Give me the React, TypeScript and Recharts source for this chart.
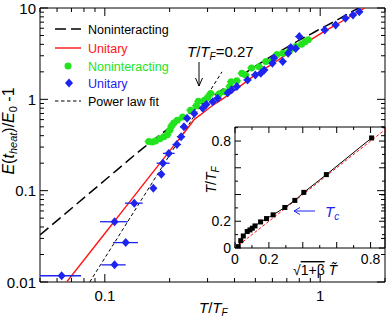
import React from 'react';
import { ComposedChart, Line, Scatter, XAxis, YAxis, ErrorBar, ReferenceArea } from 'recharts';

const FONT = '"Liberation Sans", Arial, Helvetica, sans-serif';
const RED = '#ff1414';
const GREEN = '#22e41e';
const BLUE = '#1c24ee';

// ---------- main plot data ----------
const nonintT = [0.05, 0.1, 0.15, 0.2, 0.25, 0.3, 0.35, 0.4, 0.5, 0.6, 0.7, 0.8, 0.9, 1.0, 1.2, 1.4, 1.55];
const nonintE = [0.0327, 0.13, 0.29, 0.49, 0.72, 0.98, 1.27, 1.6, 2.3, 3.0, 3.7, 4.45, 5.15, 5.9, 7.4, 9.1, 10.3];

const unitT = [0.0665, 0.1, 0.15, 0.2, 0.25, 0.26, 0.27, 0.28, 0.3, 0.35, 0.4, 0.5, 0.6, 0.7, 0.8, 0.9, 1.0, 1.2, 1.4, 1.61];
const unitE = [0.01, 0.034, 0.115, 0.272, 0.53, 0.6, 0.645, 0.685, 0.78, 1.0, 1.25, 1.85, 2.45, 3.1, 3.77, 4.47, 5.2, 6.68, 8.25, 10];

const fitT = [0.0851, 0.35];
const fitE = [0.01, 2.0];

const blueT = [0.063, 0.111, 0.111, 0.125, 0.137, 0.168, 0.183, 0.186, 0.198, 0.216, 0.226, 0.233, 0.241, 0.26, 0.285, 0.296, 0.317, 0.334, 0.372, 0.388, 0.41, 0.46, 0.5, 0.53, 0.55, 0.6, 0.61, 0.67, 0.71, 0.73, 0.77, 0.8, 1.05, 1.18, 1.31, 1.42, 1.52];
const blueE = [0.0117, 0.0457, 0.0154, 0.027, 0.073, 0.106, 0.151, 0.2, 0.256, 0.32, 0.39, 0.5, 0.62, 0.7, 0.8, 0.88, 0.94, 1.03, 1.17, 1.27, 1.38, 1.63, 1.85, 1.93, 2.09, 2.48, 2.83, 2.6, 3.2, 3.7, 3.6, 4.86, 5.76, 6.5, 7.7, 8.4, 9.1];
const blueErrLo = [0.013, 0.016, 0.0146, 0.016, 0.013, 0.006, 0.005, 0.012, 0.012, 0.01, 0.01, 0.01, 0.01, 0.011, 0.012, 0.012, 0.013, 0.014, 0.015, 0.016, 0.017, 0.019, 0.021, 0.022, 0.023, 0.025, 0.025, 0.028, 0.03, 0.03, 0.032, 0.033, 0.043, 0.048, 0.054, 0.058, 0.062];
const blueErrHi = [0.0145, 0.017, 0.014, 0.0175, 0.013, 0.006, 0.005, 0.014, 0.013, 0.01, 0.01, 0.01, 0.01, 0.011, 0.012, 0.012, 0.013, 0.014, 0.015, 0.016, 0.017, 0.019, 0.021, 0.022, 0.023, 0.025, 0.025, 0.028, 0.03, 0.03, 0.032, 0.033, 0.043, 0.048, 0.054, 0.058, 0.062];

const greenT = [0.16, 0.166, 0.172, 0.18, 0.188, 0.195, 0.2, 0.204, 0.209, 0.217, 0.23, 0.25, 0.266, 0.272, 0.29, 0.3, 0.31, 0.34, 0.359, 0.38, 0.386, 0.41, 0.433, 0.45, 0.48, 0.52, 0.56, 0.6, 0.63, 0.67, 0.72, 0.77, 0.82, 0.85, 0.88];
const greenE = [0.345, 0.34, 0.35, 0.37, 0.39, 0.41, 0.46, 0.51, 0.55, 0.59, 0.64, 0.76, 0.85, 0.95, 0.98, 1.05, 1.16, 1.15, 1.21, 1.38, 1.56, 1.6, 1.93, 1.85, 2.2, 2.28, 2.6, 2.7, 3.1, 3.2, 3.4, 3.78, 4.0, 4.28, 4.5];
const greenErr = [0.007, 0.007, 0.008, 0.008, 0.008, 0.009, 0.009, 0.009, 0.009, 0.01, 0.01, 0.011, 0.012, 0.012, 0.013, 0.013, 0.014, 0.015, 0.016, 0.017, 0.017, 0.018, 0.019, 0.02, 0.021, 0.023, 0.025, 0.027, 0.028, 0.03, 0.032, 0.034, 0.036, 0.037, 0.039];

const mainXTicks = [0.05, 0.06, 0.07, 0.08, 0.09, 0.1, 0.2, 0.3, 0.4, 0.5, 0.6, 0.7, 0.8, 0.9, 1, 2];
const mainXMajor = [0.1, 1];
const mainXLabels = ['0.1', '1'];
const mainYTicks = [0.01, 0.02, 0.03, 0.04, 0.05, 0.06, 0.07, 0.08, 0.09, 0.1, 0.2, 0.3, 0.4, 0.5, 0.6, 0.7, 0.8, 0.9, 1, 2, 3, 4, 5, 6, 7, 8, 9, 10];
const mainYMajor = [0.01, 0.1, 1, 10];
const mainYLabels = ['0.01', '0.1', '1', '10'];

// ---------- inset data ----------
const insetX = [0.019, 0.034, 0.049, 0.072, 0.088, 0.102, 0.118, 0.151, 0.186, 0.225, 0.294, 0.353, 0.406, 0.539, 0.806];
const insetY = [0.01, 0.055, 0.09, 0.123, 0.135, 0.148, 0.165, 0.195, 0.22, 0.248, 0.303, 0.356, 0.416, 0.549, 0.823];
const diagX = [0, 0.95];
const diagY = [0, 0.95];
const insetXTicks = [0, 0.1, 0.2, 0.3, 0.4, 0.5, 0.6, 0.7, 0.8];
const insetYTicks = [0, 0.1, 0.2, 0.3, 0.4, 0.5, 0.6, 0.7, 0.8, 0.9];
const insetMajor = [0, 0.2, 0.4, 0.6, 0.8];
const insetLabelVals = [0, 0.2, 0.8];
const insetLabels = ['0', '0.2', '0.8'];

const nonintData = nonintT.map((T, i) => ({ T, E: nonintE[i] }));
const unitData = unitT.map((T, i) => ({ T, E: unitE[i] }));
const fitData = fitT.map((T, i) => ({ T, E: fitE[i] }));
const blueData = blueT.map((T, i) => ({ T, E: blueE[i], ex: [blueErrLo[i], blueErrHi[i]] }));
const greenData = greenT.map((T, i) => ({ T, E: greenE[i], ex: greenErr[i] }));
const insetData = insetX.map((x, i) => ({ x, y: insetY[i] }));
const diagData = diagX.map((x, i) => ({ x, y: diagY[i] }));

// plot rectangles (layout)
const M = { left: 40, right: 385, top: 8, bottom: 282 };
const I = { left: 40, right: 190, top: 10, bottom: 131 };

const MainXTick = (props: any) => {
  const { x, payload } = props;
  const idx = mainXMajor.indexOf(payload.value);
  const len = idx >= 0 ? 8 : 4;
  return (
    <g>
      <line x1={x} x2={x} y1={M.bottom} y2={M.bottom - len} stroke="#000" />
      <line x1={x} x2={x} y1={M.top} y2={M.top + len} stroke="#000" />
      {idx >= 0 && (
        <text x={x} y={M.bottom + 19} textAnchor="middle" fontSize={15} fontFamily={FONT} fill="#000">
          {mainXLabels[idx]}
        </text>
      )}
    </g>
  );
};

const MainYTick = (props: any) => {
  const { y, payload } = props;
  const idx = mainYMajor.indexOf(payload.value);
  const len = idx >= 0 ? 8 : 4;
  return (
    <g>
      <line x1={M.left} x2={M.left + len} y1={y} y2={y} stroke="#000" />
      <line x1={M.right} x2={M.right - len} y1={y} y2={y} stroke="#000" />
      {idx >= 0 && (
        <text x={M.left - 4} y={y + 5.5} textAnchor="end" fontSize={15} fontFamily={FONT} fill="#000">
          {mainYLabels[idx]}
        </text>
      )}
    </g>
  );
};

const InsetXTick = (props: any) => {
  const { x, payload } = props;
  const v = payload.value;
  const len = insetMajor.indexOf(v) >= 0 ? 6 : 3;
  const li = insetLabelVals.indexOf(v);
  return (
    <g>
      <line x1={x} x2={x} y1={I.bottom} y2={I.bottom - len} stroke="#000" />
      <line x1={x} x2={x} y1={I.top} y2={I.top + len} stroke="#000" />
      {li >= 0 && (
        <text x={x} y={I.bottom + 16} textAnchor="middle" fontSize={14} fontFamily={FONT} fill="#000">
          {insetLabels[li]}
        </text>
      )}
    </g>
  );
};

const InsetYTick = (props: any) => {
  const { y, payload } = props;
  const v = payload.value;
  const len = insetMajor.indexOf(v) >= 0 ? 6 : 3;
  const li = insetLabelVals.indexOf(v);
  return (
    <g>
      <line x1={I.left} x2={I.left + len} y1={y} y2={y} stroke="#000" />
      <line x1={I.right} x2={I.right - len} y1={y} y2={y} stroke="#000" />
      {li >= 0 && (
        <text x={I.left - 4} y={y + 5} textAnchor="end" fontSize={14} fontFamily={FONT} fill="#000">
          {insetLabels[li]}
        </text>
      )}
    </g>
  );
};

const GreenDot = (p: any) => <circle cx={p.cx} cy={p.cy} r={3.5} fill={GREEN} />;
const BlueDiamond = (p: any) => (
  <path d={`M${p.cx},${p.cy - 4.5}L${p.cx + 4},${p.cy}L${p.cx},${p.cy + 4.5}L${p.cx - 4},${p.cy}Z`} fill={BLUE} />
);
const BlackSquare = (p: any) => <rect x={p.cx - 2.5} y={p.cy - 2.5} width={5} height={5} fill="#000" />;

export default function App() {
  return (
    <div style={{ position: 'absolute', left: 0, top: 0, width: 388, height: 318, background: '#fff', overflow: 'hidden' }}>
      <ComposedChart width={388} height={318} margin={{ top: 8, right: 3, bottom: 0, left: 0 }}>
        <XAxis dataKey="T" type="number" scale="log" domain={[0.05, 2]} allowDataOverflow ticks={mainXTicks} interval={0}
          height={36} axisLine={false} tickLine={false} tick={MainXTick} />
        <YAxis type="number" scale="log" domain={[0.01, 10]} allowDataOverflow ticks={mainYTicks} interval={0}
          width={40} axisLine={false} tickLine={false} tick={MainYTick} />
        <ReferenceArea x1={0.05} x2={2} y1={0.01} y2={10} fill="none" fillOpacity={0} stroke="#000" strokeWidth={1} />
        <Line data={nonintData} dataKey="E" type="monotone" stroke="#000" strokeWidth={1.5} strokeDasharray="11 5" dot={false} isAnimationActive={false} />
        <Line data={fitData} dataKey="E" type="linear" stroke="#000" strokeWidth={1} strokeDasharray="3.5 2.5" dot={false} isAnimationActive={false} />
        <Line data={unitData} dataKey="E" type="monotone" stroke={RED} strokeWidth={1.4} dot={false} isAnimationActive={false} />
        <Scatter data={greenData} dataKey="E" shape={GreenDot} fill={GREEN} isAnimationActive={false}>
          <ErrorBar dataKey="ex" direction="x" width={0} stroke={GREEN} strokeWidth={1.3} />
        </Scatter>
        <Scatter data={blueData} dataKey="E" shape={BlueDiamond} fill={BLUE} isAnimationActive={false}>
          <ErrorBar dataKey="ex" direction="x" width={0} stroke={BLUE} strokeWidth={1.3} />
        </Scatter>
      </ComposedChart>

      <div style={{ position: 'absolute', left: 195, top: 117 }}>
        <ComposedChart width={193} height={165} margin={{ top: 10, right: 3, bottom: 0, left: 0 }}>
          <XAxis dataKey="x" type="number" domain={[0, 0.885]} allowDataOverflow ticks={insetXTicks} interval={0}
            height={34} axisLine={false} tickLine={false} tick={InsetXTick} />
          <YAxis type="number" domain={[0, 0.905]} allowDataOverflow ticks={insetYTicks} interval={0}
            width={40} axisLine={false} tickLine={false} tick={InsetYTick} />
          <ReferenceArea x1={0} x2={0.885} y1={0} y2={0.905} fill="none" fillOpacity={0} stroke="#000" strokeWidth={1} />
          <Line data={diagData} dataKey="y" type="linear" stroke={RED} strokeWidth={1} strokeDasharray="3 2" dot={false} isAnimationActive={false} />
          <Line data={insetData} dataKey="y" type="linear" stroke="#000" strokeWidth={1} dot={false} isAnimationActive={false} />
          <Scatter data={insetData} dataKey="y" shape={BlackSquare} fill="#000" isAnimationActive={false} />
        </ComposedChart>
      </div>

      <svg width={388} height={318} style={{ position: 'absolute', left: 0, top: 0, pointerEvents: 'none' }} fontFamily={FONT}>
        {/* main axis titles */}
        <text transform="translate(14,131) rotate(-90)" textAnchor="middle" fontSize={16} fill="#000">
          <tspan fontStyle="italic">E</tspan>
          <tspan>(</tspan>
          <tspan fontStyle="italic">t</tspan>
          <tspan fontStyle="italic" fontSize={11} dy={3}>heat</tspan>
          <tspan dy={-3}>)/</tspan>
          <tspan fontStyle="italic">E</tspan>
          <tspan fontSize={11} dy={3}>0</tspan>
          <tspan dy={-3}> -1</tspan>
        </text>
        <text x={199} y={313} fontSize={15} fill="#000">
          <tspan fontStyle="italic">T</tspan>
          <tspan>/</tspan>
          <tspan fontStyle="italic">T</tspan>
          <tspan fontStyle="italic" fontSize={10} dy={3}>F</tspan>
        </text>

        {/* annotation */}
        <text x={187} y={57} fontSize={15} fill="#000">
          <tspan fontStyle="italic">T</tspan>
          <tspan>/</tspan>
          <tspan fontStyle="italic">T</tspan>
          <tspan fontStyle="italic" fontSize={10} dy={3}>F</tspan>
          <tspan dy={-3}>=0.27</tspan>
        </text>
        <line x1={199} y1={62} x2={199} y2={86} stroke="#000" strokeWidth={1} />
        <polyline points="195.5,78 199,86 202.5,78" fill="none" stroke="#000" strokeWidth={1} />

        {/* legend */}
        <line x1={55} y1={29} x2={81} y2={29} stroke="#000" strokeWidth={1.5} strokeDasharray="11 5" />
        <text x={88} y={33.5} fontSize={12.5} fill="#000">Noninteracting</text>
        <line x1={55} y1={48} x2={81} y2={48} stroke={RED} strokeWidth={1.4} />
        <text x={88} y={52.5} fontSize={12.5} fill={RED}>Unitary</text>
        <circle cx={68} cy={66} r={3.5} fill={GREEN} />
        <text x={88} y={70.5} fontSize={12.5} fill={GREEN}>Noninteracting</text>
        <path d="M69,78.5L73,83L69,87.5L65,83Z" fill={BLUE} />
        <text x={88} y={87.5} fontSize={12.5} fill={BLUE}>Unitary</text>
        <line x1={55} y1={101} x2={81} y2={101} stroke="#000" strokeWidth={1} strokeDasharray="3.5 2.5" />
        <text x={88} y={105.5} fontSize={12.5} fill="#000">Power law fit</text>

        {/* inset labels */}
        <text transform="translate(216,180) rotate(-90)" textAnchor="middle" fontSize={14} fill="#000">
          <tspan fontStyle="italic">T</tspan>
          <tspan>/</tspan>
          <tspan fontStyle="italic">T</tspan>
          <tspan fontStyle="italic" fontSize={10} dy={3}>F</tspan>
        </text>
        <text x={293} y={275} fontSize={14} fill="#000">
          <tspan>√</tspan>
          <tspan style={{ textDecoration: 'overline' }}>1+β</tspan>
          <tspan> </tspan>
          <tspan fontStyle="italic">T̃</tspan>
        </text>
        <line x1={315} y1={211} x2={294} y2={211} stroke={BLUE} strokeWidth={1} />
        <polyline points="300,207.5 294,211 300,214.5" fill="none" stroke={BLUE} strokeWidth={1} />
        <text x={325} y={217} fontSize={15} fill={BLUE}>
          <tspan fontStyle="italic">T</tspan>
          <tspan fontStyle="italic" fontSize={10} dy={3}>c</tspan>
        </text>
      </svg>
    </div>
  );
}
